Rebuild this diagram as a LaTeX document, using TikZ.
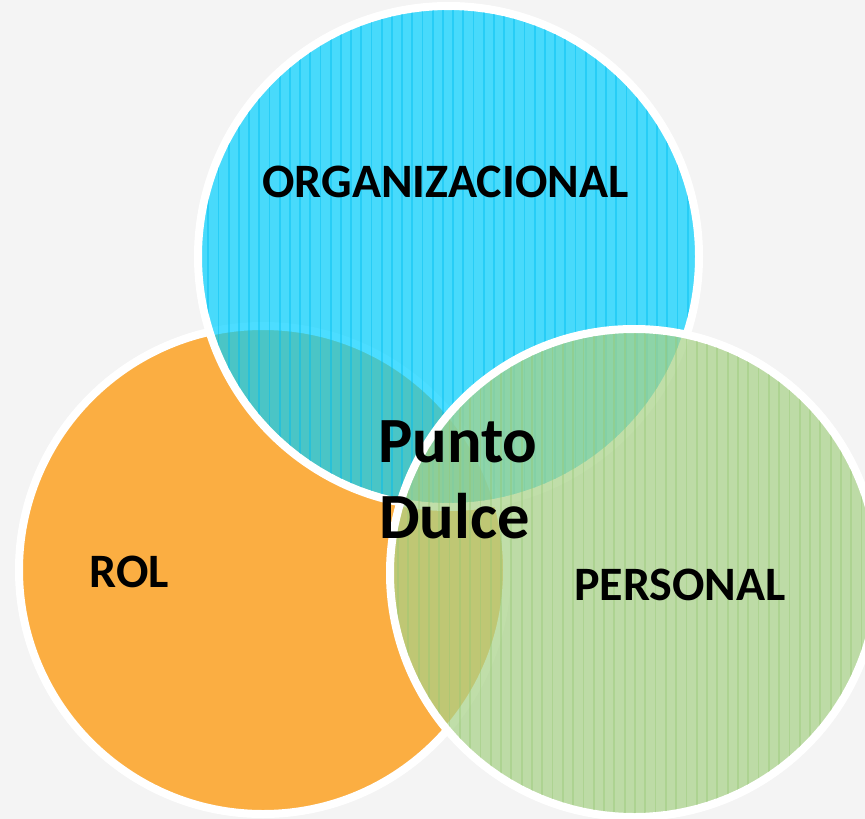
\documentclass[tikz,border=0pt]{standalone}
\usepackage{fontspec}
\setmainfont{Carlito}
\definecolor{bgc}{RGB}{244,244,244}
\definecolor{rolc}{RGB}{251,174,66}
\definecolor{orgc}{RGB}{0,207,255}
\definecolor{orgstripe}{RGB}{0,190,240}
\definecolor{perc}{RGB}{168,210,136}
\definecolor{perstripe}{RGB}{150,200,115}
\tikzset{
  venn/.style={circle, draw=white, line width=8pt, inner sep=0pt},
  label47/.style={font=\bfseries\fontsize{48}{56}\selectfont, text=black, inner sep=0pt, anchor=base},
  bigtxt/.style={font=\bfseries\fontsize{64.5}{76}\selectfont, text=black, inner sep=0pt, anchor=base west},
  orgline/.style={draw=orgstripe, draw opacity=0.45, line width=1.8pt},
  perline/.style={draw=perstripe, draw opacity=0.4, line width=1.8pt}
}
\begin{document}
\begin{tikzpicture}[x=1pt,y=-1pt]
\useasboundingbox (0,0) rectangle (865,819);
\fill[bgc] (0,0) rectangle (865,819);
\clip (0,0) rectangle (865,819);
% ROL circle
\node[venn, fill=rolc, minimum size=488pt] (rol) at (263,570) {};
% ORGANIZACIONAL circle
\node[venn, fill=orgc, fill opacity=0.7, minimum size=501pt] (org) at (448.5,256.5) {};
\begin{scope}
  \clip (org.center) circle (246.5);
  \foreach \i in {-19,...,30} {
    \draw[orgline] (381.7+10.2*\i,0) -- (381.7+10.2*\i,520);
  }
\end{scope}
% PERSONAL circle
\node[venn, fill=perc, fill opacity=0.72, minimum size=488pt] (per) at (634,573) {};
\begin{scope}
  \clip (per.center) circle (240);
  \foreach \i in {-1,...,47} {
    \draw[perline] (387.7+10.3*\i,320) -- (387.7+10.3*\i,819);
  }
\end{scope}
% labels
\node[label47] (torg) at (445.5,197) {ORGANIZACIONAL};
\node[label47] (trol) at (129.5,587) {ROL};
\node[label47] (tper) at (680,600) {PERSONAL};
\node[bigtxt] (tpunto) at (378,462) {Punto};
\node[bigtxt] (tdulce) at (379,538) {Dulce};
\end{tikzpicture}
\end{document}
